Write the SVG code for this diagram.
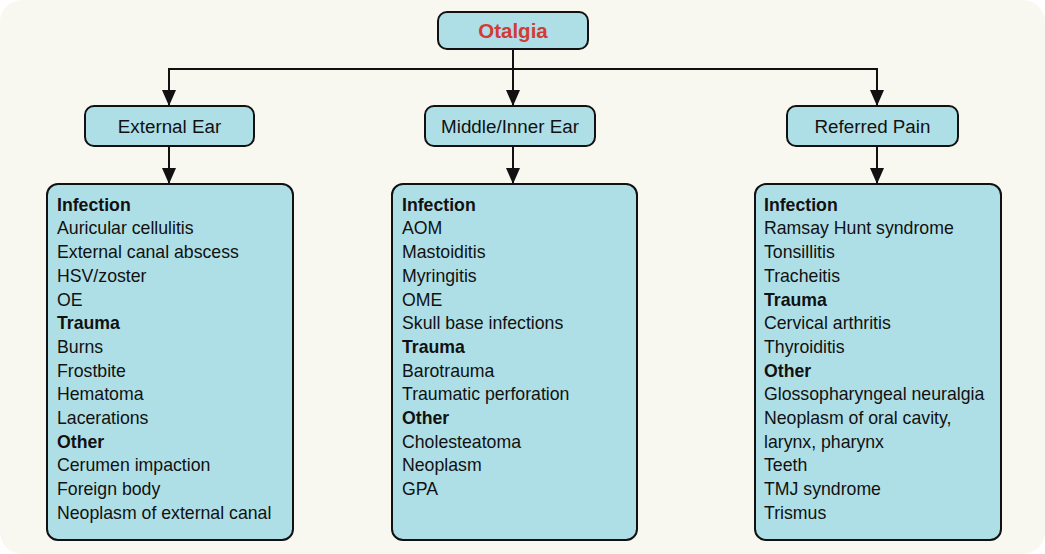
<svg xmlns="http://www.w3.org/2000/svg" width="1045" height="554" viewBox="0 0 1045 554">
<style>
.box{fill:#afdfe6;stroke:#111;stroke-width:2}
.t{font-family:"Liberation Sans",Arial,sans-serif;font-size:17.7px;fill:#111}
.h{font-weight:bold}
.title{font-family:"Liberation Sans",Arial,sans-serif;font-size:18.8px;fill:#111;text-anchor:middle}
.root{font-family:"Liberation Sans",Arial,sans-serif;font-size:20.5px;font-weight:bold;fill:#d23b36;text-anchor:middle}
.c{fill:none;stroke:#111;stroke-width:2}
</style>
<defs>
<marker id="ah" viewBox="0 0 16 14" refX="16" refY="7" markerWidth="16" markerHeight="14" markerUnits="userSpaceOnUse" orient="auto">
<path d="M0,0 L16,7 L0,14 Z" fill="#111"/>
</marker>
</defs>
<rect x="0" y="0" width="1045" height="554" fill="#ffffff"/>
<rect x="0" y="0" width="1045" height="554" rx="22" fill="#f8f7f0"/>

<g id="connectors">
<path class="c" d="M513,49 V106" marker-end="url(#ah)"/>
<path class="c" d="M169,106 V69 H877 V106" marker-end="url(#ah)"/>
<path class="c" d="M169,69 V106" marker-end="url(#ah)"/>
<path class="c" d="M169,146 V184" marker-end="url(#ah)"/>
<path class="c" d="M513,146 V184" marker-end="url(#ah)"/>
<path class="c" d="M877,146 V184" marker-end="url(#ah)"/>
</g>

<g id="otalgia">
<rect class="box" x="438" y="12" width="150" height="37" rx="9"/>
<text class="root" x="513" y="38">Otalgia</text>
</g>

<g id="external-ear">
<rect class="box" x="85" y="106" width="169" height="40" rx="9"/>
<text class="title" x="169.5" y="133">External Ear</text>
</g>

<g id="middle-inner-ear">
<rect class="box" x="425" y="106" width="170" height="40" rx="9"/>
<text class="title" x="510" y="133">Middle/Inner Ear</text>
</g>

<g id="referred-pain">
<rect class="box" x="787" y="106" width="171" height="40" rx="9"/>
<text class="title" x="872.5" y="133">Referred Pain</text>
</g>

<g id="external-list">
<rect class="box" x="47" y="184" width="246" height="356" rx="11"/>
<text class="t" x="57">
<tspan class="h" x="57" y="210.7">Infection</tspan>
<tspan x="57" y="234.4">Auricular cellulitis</tspan>
<tspan x="57" y="258.1">External canal abscess</tspan>
<tspan x="57" y="281.8">HSV/zoster</tspan>
<tspan x="57" y="305.5">OE</tspan>
<tspan class="h" x="57" y="329.2">Trauma</tspan>
<tspan x="57" y="352.9">Burns</tspan>
<tspan x="57" y="376.6">Frostbite</tspan>
<tspan x="57" y="400.3">Hematoma</tspan>
<tspan x="57" y="424">Lacerations</tspan>
<tspan class="h" x="57" y="447.7">Other</tspan>
<tspan x="57" y="471.4">Cerumen impaction</tspan>
<tspan x="57" y="495.1">Foreign body</tspan>
<tspan x="57" y="518.8">Neoplasm of external canal</tspan>
</text>
</g>

<g id="middle-list">
<rect class="box" x="392" y="184" width="245" height="356" rx="11"/>
<text class="t" x="402">
<tspan class="h" x="402" y="210.7">Infection</tspan>
<tspan x="402" y="234.4">AOM</tspan>
<tspan x="402" y="258.1">Mastoiditis</tspan>
<tspan x="402" y="281.8">Myringitis</tspan>
<tspan x="402" y="305.5">OME</tspan>
<tspan x="402" y="329.2">Skull base infections</tspan>
<tspan class="h" x="402" y="352.9">Trauma</tspan>
<tspan x="402" y="376.6">Barotrauma</tspan>
<tspan x="402" y="400.3">Traumatic perforation</tspan>
<tspan class="h" x="402" y="424">Other</tspan>
<tspan x="402" y="447.7">Cholesteatoma</tspan>
<tspan x="402" y="471.4">Neoplasm</tspan>
<tspan x="402" y="495.1">GPA</tspan>
</text>
</g>

<g id="referred-list">
<rect class="box" x="755" y="184" width="246" height="356" rx="11"/>
<text class="t" x="764">
<tspan class="h" x="764" y="210.7">Infection</tspan>
<tspan x="764" y="234.4">Ramsay Hunt syndrome</tspan>
<tspan x="764" y="258.1">Tonsillitis</tspan>
<tspan x="764" y="281.8">Tracheitis</tspan>
<tspan class="h" x="764" y="305.5">Trauma</tspan>
<tspan x="764" y="329.2">Cervical arthritis</tspan>
<tspan x="764" y="352.9">Thyroiditis</tspan>
<tspan class="h" x="764" y="376.6">Other</tspan>
<tspan x="764" y="400.3">Glossopharyngeal neuralgia</tspan>
<tspan x="764" y="424">Neoplasm of oral cavity,</tspan>
<tspan x="764" y="447.7">larynx, pharynx</tspan>
<tspan x="764" y="471.4">Teeth</tspan>
<tspan x="764" y="495.1">TMJ syndrome</tspan>
<tspan x="764" y="518.8">Trismus</tspan>
</text>
</g>
</svg>
